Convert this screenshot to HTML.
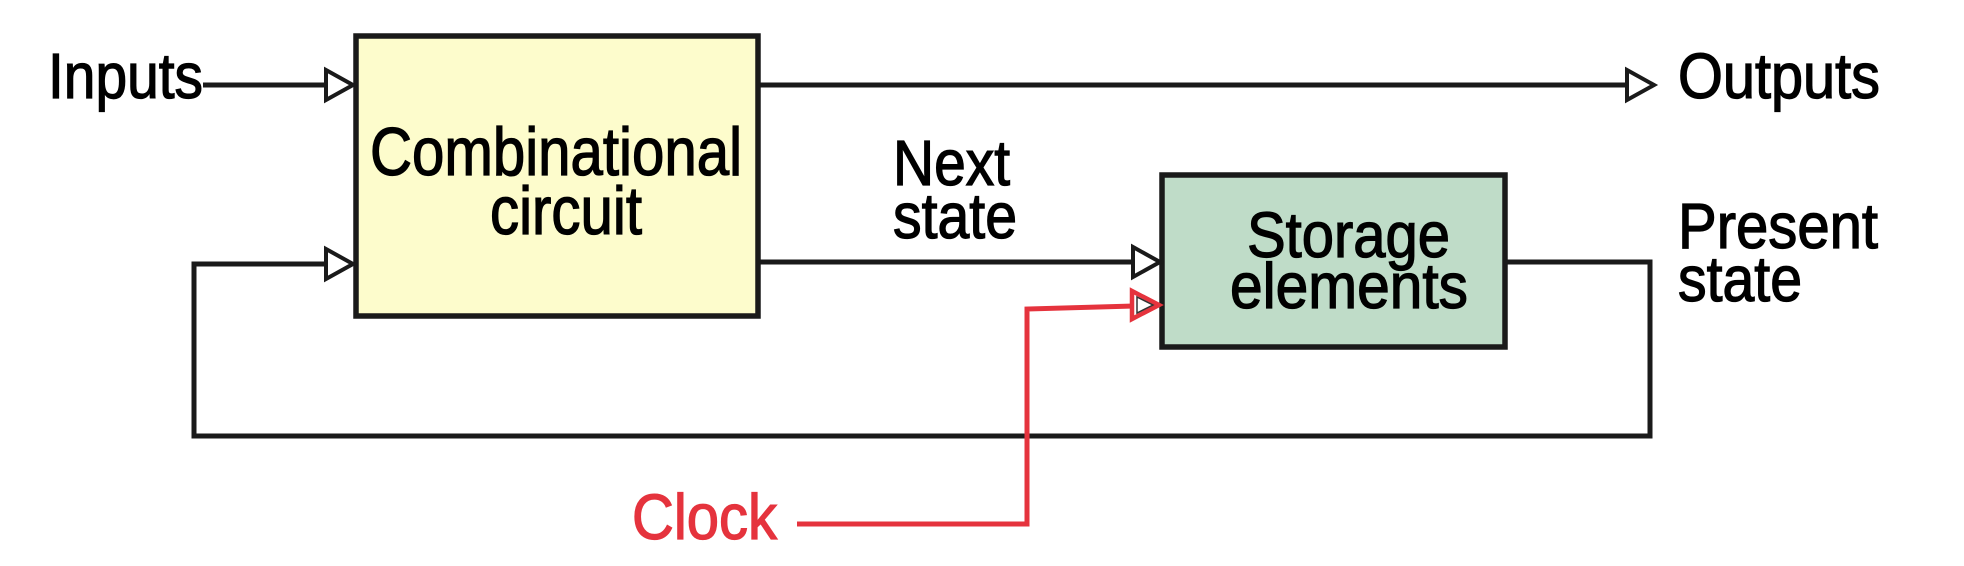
<!DOCTYPE html>
<html><head><meta charset="utf-8"><style>
html,body{margin:0;padding:0;background:#fff;}
svg{display:block;}
text{font-family:"Liberation Sans",sans-serif;fill:#000;stroke:#000;stroke-width:1.3;}
</style></head><body>
<svg width="1964" height="566" viewBox="0 0 1964 566" xmlns="http://www.w3.org/2000/svg">
<g stroke="#1a1a1a" stroke-width="5" fill="none">
<line x1="203" y1="85" x2="330" y2="85"/>
<line x1="758" y1="85" x2="1628" y2="85"/>
<line x1="758" y1="262" x2="1136" y2="262"/>
<polyline points="1506,262 1650,262 1650,436 194,436 194,264 330,264"/>
</g>
<rect x="356" y="36" width="402" height="280" fill="#fdfccc" stroke="#1a1a1a" stroke-width="5.5"/>
<rect x="1162" y="175" width="343" height="172" fill="#bfdcc8" stroke="#1a1a1a" stroke-width="5.5"/>
<g fill="#fff" stroke="#1a1a1a" stroke-width="4">
<polygon points="326,70 353,85 326,100"/>
<polygon points="326,249 353,264 326,279"/>
<polygon points="1627,70 1654,85 1627,100"/>
<polygon points="1133,247 1160,262 1133,277"/>
</g>
<polyline points="797,524 1027,524 1027,309 1134,306" fill="none" stroke="#e5333d" stroke-width="5"/>
<polygon points="1132,291 1159,305 1132,319" fill="#fff" stroke="#e5333d" stroke-width="4.5"/>
<polygon points="1137,297 1153,305 1137,313" fill="none" stroke="#333" stroke-width="1.5"/>
<text x="48" y="98" font-size="64" textLength="155" lengthAdjust="spacingAndGlyphs">Inputs</text>
<text x="1678" y="98" font-size="64" textLength="202" lengthAdjust="spacingAndGlyphs">Outputs</text>
<text x="370" y="175" font-size="68" textLength="372" lengthAdjust="spacingAndGlyphs">Combinational</text>
<text x="490" y="234" font-size="68" textLength="152" lengthAdjust="spacingAndGlyphs">circuit</text>
<text x="893" y="185" font-size="64" textLength="117" lengthAdjust="spacingAndGlyphs">Next</text>
<text x="893" y="238" font-size="64" textLength="124" lengthAdjust="spacingAndGlyphs">state</text>
<text x="1247" y="257" font-size="64" textLength="203" lengthAdjust="spacingAndGlyphs">Storage</text>
<text x="1230" y="308" font-size="64" textLength="238" lengthAdjust="spacingAndGlyphs">elements</text>
<text x="1678" y="248" font-size="64" textLength="200" lengthAdjust="spacingAndGlyphs">Present</text>
<text x="1678" y="301" font-size="64" textLength="124" lengthAdjust="spacingAndGlyphs">state</text>
<text x="632" y="539" font-size="64" textLength="145" lengthAdjust="spacingAndGlyphs" style="fill:#e5333d;stroke:#e5333d">Clock</text>
</svg>
</body></html>
